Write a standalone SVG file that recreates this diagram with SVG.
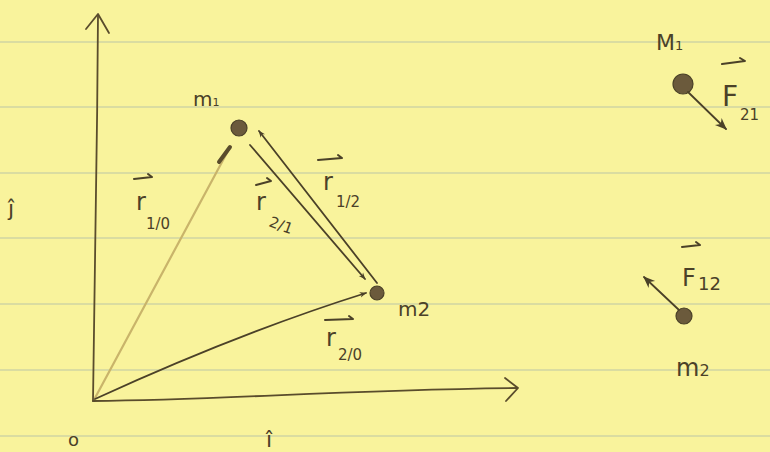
<svg xmlns="http://www.w3.org/2000/svg" width="770" height="452" viewBox="0 0 770 452">
<defs>
<style>
.rule{stroke:#bcc6a6;stroke-width:1.1;fill:none}
.pen{stroke:#4b4128;stroke-width:1.8;fill:none;stroke-linecap:round;stroke-linejoin:round}
.faint{stroke:#c9b46a;stroke-width:2.2;fill:none;stroke-linecap:round}
.axis{stroke:#5a4c2c;stroke-width:1.8;fill:none;stroke-linecap:round;stroke-linejoin:round}
.dot{fill:#6b5a3c;stroke:#4b4128;stroke-width:1.2}
.t{font-family:"DejaVu Sans","Liberation Sans",sans-serif;fill:#4b4128;font-weight:normal}
.vec{stroke:#4b4128;stroke-width:2;fill:none;stroke-linecap:round;stroke-linejoin:round}
</style>
<marker id="ah" viewBox="0 0 10 10" refX="9" refY="5" markerWidth="7" markerHeight="7" orient="auto" markerUnits="userSpaceOnUse">
<path d="M0,1 L10,5 L0,9 L3,5 Z" fill="#4b4128"/>
</marker>
<marker id="ahL" viewBox="0 0 10 10" refX="9" refY="5" markerWidth="12" markerHeight="12" orient="auto" markerUnits="userSpaceOnUse">
<path d="M0,1 L10,5 L0,9 L3,5 Z" fill="#4b4128"/>
</marker>
</defs>
<rect width="770" height="452" fill="#f9f39c"/>
<g id="paper-rules">
<path class="rule" d="M0,42 H770 M0,107 H770 M0,173 H770 M0,238 H770 M0,304 H770 M0,370 H770 M0,436 H770"/>
</g>
<g id="axes">
<path class="axis" d="M93,401 C95,300 97,150 98,15"/>
<path class="axis" d="M86,29 L98,14 L109,33"/>
<path class="axis" d="M93,401 C230,400 330,390 517,388"/>
<path class="axis" d="M505,378 L518,388 L506,401"/>
<text class="t" x="68" y="446" font-size="18">o</text>
<text class="t" x="266" y="447" font-size="22">î</text>
<text class="t" x="8" y="216" font-size="22">ĵ</text>
</g>
<g id="connectors">
<path class="faint" d="M95,398 L229,149"/>
<path d="M219,162 L230,147" stroke="#5a4c2c" stroke-width="4" stroke-linecap="round"/>
<path class="pen" d="M95,399 C180,360 280,320 366,293" marker-end="url(#ah)"/>
<path class="pen" d="M250,145 L365,279" marker-end="url(#ah)"/>
<path class="pen" d="M377,283 L259,131" marker-end="url(#ah)"/>
</g>
<g id="m1">
<circle class="dot" cx="239" cy="128" r="8"/>
<text class="t" x="193" y="106" font-size="20">m<tspan font-size="11">1</tspan></text>
</g>
<g id="m2">
<circle class="dot" cx="377" cy="293" r="7"/>
<text class="t" x="398" y="316" font-size="20">m2</text>
</g>
<g id="label-r10">
<path class="vec" d="M134,179 L152,177 L148,174"/>
<text class="t" x="136" y="210" font-size="24">r</text>
<text class="t" x="146" y="229" font-size="15">1/0</text>
</g>
<g id="label-r21">
<path class="vec" d="M256,185 L271,181 L267,178"/>
<text class="t" x="256" y="210" font-size="24">r</text>
<text class="t" x="268" y="226" font-size="15" transform="rotate(20 268 226)">2/1</text>
</g>
<g id="label-r12">
<path class="vec" d="M318,160 L342,158 L338,155"/>
<text class="t" x="323" y="190" font-size="24">r</text>
<text class="t" x="336" y="207" font-size="15">1/2</text>
</g>
<g id="label-r20">
<path class="vec" d="M325,320 L353,319 L349,316"/>
<text class="t" x="326" y="346" font-size="24">r</text>
<text class="t" x="338" y="360" font-size="15">2/0</text>
</g>
<g id="m1-force">
<text class="t" x="656" y="50" font-size="22">M<tspan font-size="13">1</tspan></text>
<circle class="dot" cx="683" cy="84" r="10"/>
<path class="pen" d="M688,92 L726,129" marker-end="url(#ahL)"/>
<path class="vec" d="M722,64 L745,61 L740,58"/>
<text class="t" x="722" y="106" font-size="28">F</text>
<text class="t" x="740" y="120" font-size="15">21</text>
</g>
<g id="m2-force">
<circle class="dot" cx="684" cy="316" r="8"/>
<path class="pen" d="M679,310 L644,277" marker-end="url(#ahL)"/>
<path class="vec" d="M682,247 L700,245 L696,242"/>
<text class="t" x="682" y="286" font-size="24">F</text>
<text class="t" x="698" y="290" font-size="18">12</text>
<text class="t" x="676" y="376" font-size="24">m<tspan font-size="16">2</tspan></text>
</g>
</svg>
